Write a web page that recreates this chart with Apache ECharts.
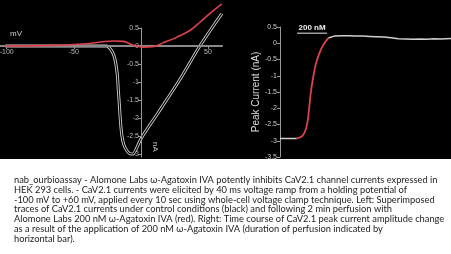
<!DOCTYPE html>
<html><head><meta charset="utf-8">
<script src="https://cdn.jsdelivr.net/npm/echarts@6/dist/echarts.min.js"></script>
<style>html,body{margin:0;padding:0;background:#fff}#c{width:451px;height:254px}</style>
</head><body><div id="c"></div>
<script>
// Left panel: I-V ramp traces (mV, nA)
const controlVoltage = [-101, -60, -40, -28, -25.4, -22.4, -20.1, -18.7, -17.5, -16.8, -16.0, -15.3, -14.2, -12.7, -10.4, -8.2, -6.0, -3.7, 0.5, 14.2, 29.1, 44.0, 60.4];
const controlCurrent = [0, 0, 0, 0, 0, -0.1, -0.26, -0.48, -0.81, -1.23, -1.64, -2.05, -2.47, -2.74, -2.91, -2.99, -3.0, -2.88, -2.55, -1.78, -0.93, 0, 0.9];
const toxinVoltage = [-101, -75, -50, -38, -28, -20, -13, -7, -3, 1.5, 9, 16, 26.6, 36.5, 44, 52, 60.4];
const toxinCurrent = [0, 0.01, 0.04, 0.07, 0.12, 0.14, 0.13, 0.04, 0, -0.03, -0.02, 0.08, 0.24, 0.43, 0.66, 0.92, 1.17];
const ivXRange = [-105, 60.5];
const ivYRange = [-3.083, 1.278];
const ivYAxisTop = 0.5;

// Right panel: time course of peak current (s, nA)
const preTime = [0, 20, 40, 58.6];
const preCurrent = [-2.93, -2.93, -2.93, -2.93];
const perfTime = [58.6, 76, 87.7, 95.8, 101.8, 107.7, 116.8, 126.3, 137.9, 151.9, 169.5];
const perfCurrent = [-2.93, -2.87, -2.72, -2.46, -2.05, -1.54, -1.03, -0.62, -0.31, -0.05, 0.16];
const postTime = [169.5, 190, 215, 240, 265, 290, 315, 340, 365, 390, 415, 440, 465, 490, 515, 540, 565, 600];
const postCurrent = [0.16, 0.22, 0.23, 0.23, 0.22, 0.22, 0.21, 0.2, 0.19, 0.17, 0.14, 0.13, 0.12, 0.13, 0.12, 0.14, 0.13, 0.15];
const perfusionBar = [60, 112.5, 165];
const perfusionLevel = 0.31;
const perfusionLabel = '200 nM';

const caption = [
"nab_ourbioassay - Alomone Labs ω-Agatoxin IVA potently inhibits CaV2.1 channel currents expressed in",
"HEK 293 cells. - CaV2.1 currents were elicited by 40 ms voltage ramp from a holding potential of",
"-100 mV to +60 mV, applied every 10 sec using whole-cell voltage clamp technique. Left: Superimposed",
"traces of CaV2.1 currents under control conditions (black) and following 2 min perfusion with",
"Alomone Labs 200 nM ω-Agatoxin IVA (red). Right: Time course of CaV2.1 peak current amplitude change",
"as a result of the application of 200 nM ω-Agatoxin IVA (duration of perfusion indicated by",
"horizontal bar)."
];

const zip = (a, b) => a.map((v, i) => [v, b[i]]);
const F = 'Liberation Sans';
const chart = echarts.init(document.getElementById('c'), null, {renderer: 'canvas'});
const lbl = {color: '#bbb', fontSize: 7, fontFamily: F};
chart.setOption({
  backgroundColor: '#fff',
  animation: false,
  graphic: [
    {type: 'rect', z: -100, shape: {x: 0, y: 0, width: 451, height: 159}, style: {fill: '#000'}},
    {type: 'text', left: 10, top: 30, style: {text: 'mV', fill: '#ccc', font: '8px ' + F}},
    {type: 'text', x: 159, y: 142, rotation: -Math.PI / 2, style: {text: 'nA', fill: '#ccc', font: '8px ' + F}},
    {type: 'text', x: 14, y: 175, style: {text: caption.join('\n'), fill: '#222', font: '9.3px Lato', lineHeight: 9.8}}
  ],
  grid: [
    {left: 0, width: 222, top: 0, bottom: 97, outerBoundsMode: 'none'},   // data
    {left: 0, width: 222, top: 0, height: 46, outerBoundsMode: 'none'},   // x axis at 0 nA
    {left: 141, width: 81, top: 28, bottom: 97, outerBoundsMode: 'none'}, // y axis at 0 mV
    {left: 280, right: 0, top: 27, bottom: 97, outerBoundsMode: 'none'}   // time course
  ],
  xAxis: [
    {gridIndex: 0, type: 'value', min: ivXRange[0], max: ivXRange[1], show: false},
    {gridIndex: 1, type: 'value', min: ivXRange[0], max: ivXRange[1], splitNumber: 3, position: 'bottom',
     axisLine: {show: true, onZero: false, lineStyle: {color: '#8a8a8a', width: 2}},
     axisTick: {show: true, length: 3, lineStyle: {color: '#999'}},
     axisLabel: Object.assign({margin: 3, showMinLabel: false, showMaxLabel: false, formatter: v => v === 0 ? '' : String(v)}, lbl),
     splitLine: {show: false}},
    {gridIndex: 2, type: 'value', min: 0, max: ivXRange[1], show: false},
    {gridIndex: 3, type: 'value', min: 0, max: 600, show: false}
  ],
  yAxis: [
    {gridIndex: 0, type: 'value', min: ivYRange[0], max: ivYRange[1], show: false},
    {gridIndex: 1, type: 'value', min: 0, max: ivYRange[1], show: false},
    {gridIndex: 2, type: 'value', min: ivYRange[0], max: ivYAxisTop, splitNumber: 7, position: 'left',
     axisLine: {show: true, onZero: false, lineStyle: {color: '#999', width: 1}},
     axisTick: {show: true, length: 3, lineStyle: {color: '#999'}},
     axisLabel: Object.assign({margin: 2, showMinLabel: false}, lbl),
     splitLine: {show: false}},
    {gridIndex: 3, type: 'value', min: -3.5, max: 0.5, interval: 0.5,
     axisLine: {show: true, lineStyle: {color: '#999', width: 1}},
     axisTick: {show: true, length: 3, lineStyle: {color: '#999'}},
     axisLabel: {color: '#ccc', fontSize: 7, fontFamily: F, margin: 3},
     splitLine: {show: false},
     name: 'Peak Current (nA)', nameLocation: 'middle', nameRotate: 90, nameGap: 19,
     nameTextStyle: {color: '#ddd', fontSize: 10, fontFamily: F}}
  ],
  series: [
    {type: 'line', xAxisIndex: 0, yAxisIndex: 0, data: zip(controlVoltage, controlCurrent), showSymbol: false, symbol: 'none', smooth: 0.3, lineStyle: {color: '#cfcfcf', width: 3}, z: -2},
    {type: 'line', xAxisIndex: 0, yAxisIndex: 0, data: zip(controlVoltage, controlCurrent), showSymbol: false, symbol: 'none', smooth: 0.3, lineStyle: {color: '#000', width: 1.2}, z: -1},
    {type: 'line', xAxisIndex: 0, yAxisIndex: 0, data: zip(toxinVoltage, toxinCurrent), showSymbol: false, symbol: 'none', smooth: 0.4, lineStyle: {color: '#e0404c', width: 1.6}, z: 4},
    {type: 'line', xAxisIndex: 3, yAxisIndex: 3, data: zip(preTime, preCurrent), symbol: 'none', lineStyle: {color: '#cfcfcf', width: 1.5}},
    {type: 'line', xAxisIndex: 3, yAxisIndex: 3, data: zip(postTime, postCurrent), symbol: 'none', lineStyle: {color: '#cfcfcf', width: 1.5}},
    {type: 'line', xAxisIndex: 3, yAxisIndex: 3, data: zip(perfTime, perfCurrent), symbol: 'none', smooth: 0.4, lineStyle: {color: '#e0404c', width: 1.8}, z: 4},
    {type: 'line', xAxisIndex: 3, yAxisIndex: 3, symbol: 'circle', symbolSize: 0, lineStyle: {color: '#eee', width: 1},
     data: perfusionBar.map((t, i) => ({value: [t, perfusionLevel], label: {show: i === 1, position: 'top', distance: 1, formatter: perfusionLabel, color: '#eee', fontSize: 8, fontFamily: F, fontWeight: 'bold'}}))}
  ]
});
</script></body></html>
